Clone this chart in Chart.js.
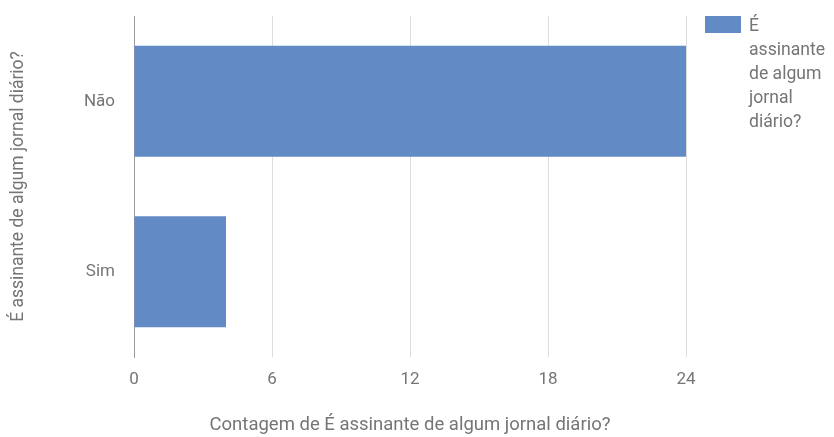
<!DOCTYPE html>
<html>
<head>
<meta charset="utf-8">
<script src="https://cdn.jsdelivr.net/npm/chart.js@4"></script>
<style>
  html, body { margin: 0; padding: 0; background: #fff; }
  #wrap { position: relative; width: 834px; height: 437px; }
  #legend { position: absolute; left: 705px; top: 16px; font: 17.6px Roboto, Arial, sans-serif; color: #757575; }
  #legend .box { position: absolute; left: 0; top: 0; width: 36px; height: 17px; background: #628ac5; }
  #legend .txt { position: absolute; left: 44px; top: -3px; width: 90px; line-height: 24px; }
</style>
</head>
<body>
<div id="wrap">
  <canvas id="chart" width="834" height="437"></canvas>
  <div id="legend"><div class="box"></div><div class="txt">É<br>assinante<br>de algum<br>jornal<br>diário?</div></div>
</div>
<script>
// data
const categories = ['Não', 'Sim'];
const counts = [24, 4];
const seriesName = 'É assinante de algum jornal diário?';
const xTicks = [0, 6, 12, 18, 24];

const textColor = '#757575';
const fontFamily = 'Roboto, Arial, sans-serif';
const tickFont = { family: fontFamily, size: 17 };

const ctx = document.getElementById('chart').getContext('2d');
new Chart(ctx, {
  type: 'bar',
  data: {
    labels: categories,
    datasets: [{
      label: seriesName,
      data: counts,
      backgroundColor: '#628ac5',
      borderWidth: 0,
      categoryPercentage: 0.65,
      barPercentage: 1
    }]
  },
  options: {
    indexAxis: 'y',
    responsive: false,
    animation: false,
    layout: { padding: { left: 0, right: 148, top: 16, bottom: 0 } },
    plugins: {
      legend: { display: false },
      tooltip: { enabled: false }
    },
    scales: {
      x: {
        min: 0,
        max: 24,
        afterBuildTicks: (scale) => { scale.ticks = xTicks.map(v => ({ value: v })); },
        afterFit: (scale) => {
          scale.height = 80;
          scale.paddingLeft = 0;
          scale.paddingRight = 0;
        },
        grid: { color: '#dddddd', drawTicks: false },
        border: { display: false },
        ticks: { color: textColor, font: tickFont, padding: 13 },
        title: { display: true, text: 'Contagem de ' + seriesName, color: textColor, font: { family: fontFamily, size: 18.5 }, padding: { top: 0, bottom: 1 } }
      },
      y: {
        afterFit: (scale) => {
          scale.width = 134;
          scale.paddingTop = 0;
          scale.paddingBottom = 0;
        },
        grid: { display: false, drawTicks: false },
        border: { display: true, color: '#999999', width: 1 },
        ticks: { color: textColor, font: tickFont, padding: 19 },
        title: { display: true, text: seriesName, color: textColor, font: { family: fontFamily, size: 17.5 }, padding: { top: 8, bottom: 0 } }
      }
    }
  }
});
</script>
</body>
</html>
